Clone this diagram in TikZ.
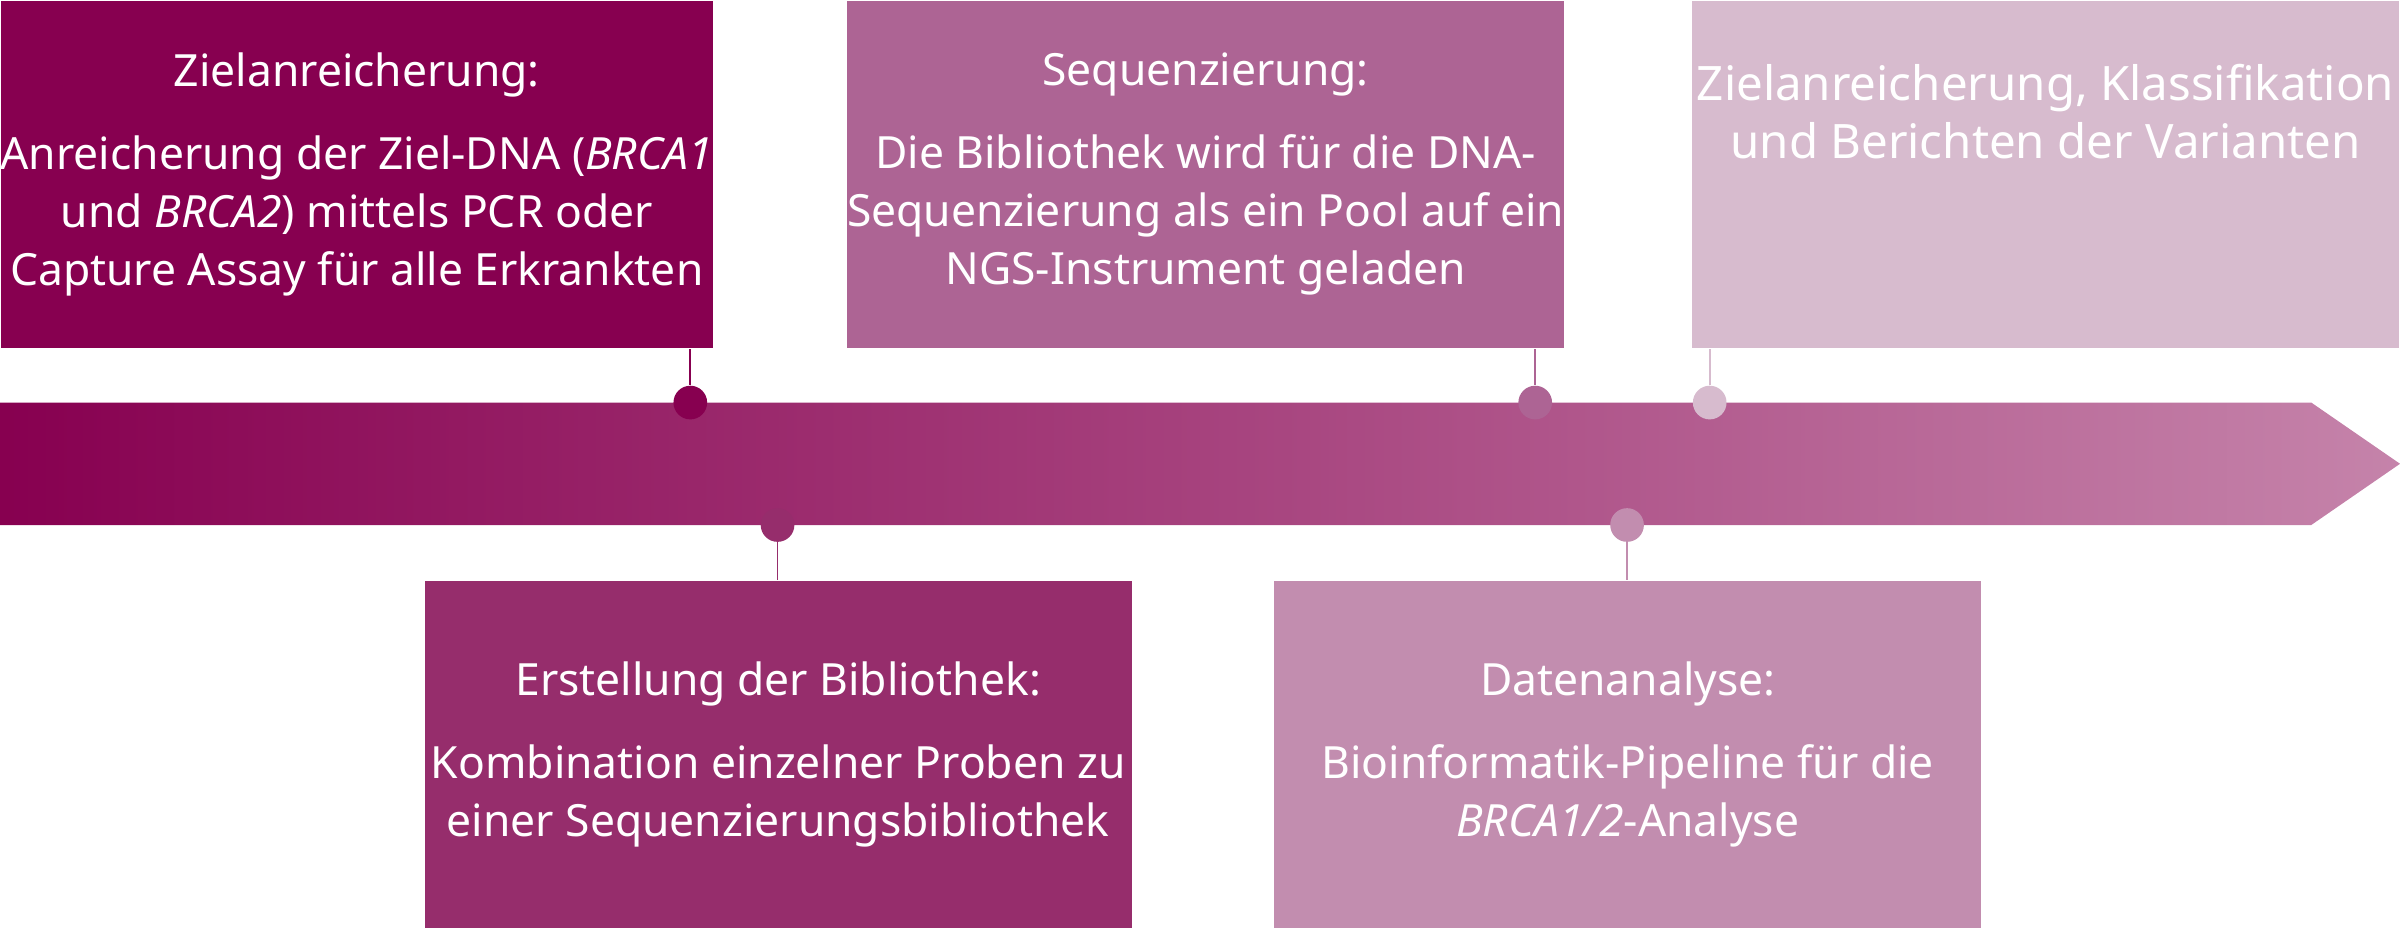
\documentclass[tikz,border=0pt]{standalone}
\usepackage{fontspec}
\setmainfont{Noto Sans}
\usetikzlibrary{shadings}
\definecolor{cA}{HTML}{870050}
\definecolor{cB}{HTML}{AD6494}
\definecolor{cC}{HTML}{D7BBCE}
\definecolor{cD}{HTML}{962D6C}
\definecolor{cE}{HTML}{C28DAF}
\definecolor{cArrL}{HTML}{870050}
\definecolor{cArrR}{HTML}{C583AA}
\tikzset{
 box/.style={minimum width=231pt,minimum height=113.5pt,inner sep=0pt,anchor=north west,text=white,align=center,font=\fontsize{14.5}{19}\selectfont},
 dot/.style={circle,minimum size=11pt,inner sep=0pt},
 stem/.style={line width=0.6pt}
}
\begin{document}
\begin{tikzpicture}[x=0.5pt,y=-0.5pt]
\useasboundingbox (0,0) rectangle (1568,606);
\shade[left color=cArrL,right color=cArrR] (0,263) -- (1510,263) -- (1568,303) -- (1510,343) -- (0,343) -- cycle;
\node[box,fill=cA] (b1) at (0,0) {\textbf{Zielanreicherung:}\\[8pt]Anreicherung der Ziel-DNA (\textit{BRCA1}\\und \textit{BRCA2}) mittels PCR oder\\Capture Assay für alle Erkrankten};
\node[box,fill=cB] (b2) at (553,0) {\textbf{Sequenzierung:}\\[8pt]Die Bibliothek wird für die DNA-\\Sequenzierung als ein Pool auf ein\\NGS-Instrument geladen};
\node[box,fill=cC] (b3) at (1105,0) {\textbf{\fontsize{15.5}{19}\selectfont Zielanreicherung, Klassifikation}\\\textbf{\fontsize{15.5}{19}\selectfont und Berichten der Varianten}\\[22pt]};
\node[box,fill=cD] (b4) at (277,379) {\textbf{Erstellung der Bibliothek:}\\[8pt]Kombination einzelner Proben zu\\einer Sequenzierungsbibliothek};
\node[box,fill=cE] (b5) at (832,379) {\textbf{Datenanalyse:}\\[8pt]Bioinformatik-Pipeline für die\\\textit{BRCA1/2}-Analyse};
\node[dot,fill=cA] (d1) at (451,263) {};
\node[dot,fill=cB] (d2) at (1003,263) {};
\node[dot,fill=cC] (d3) at (1117,263) {};
\node[dot,fill=cD] (d4) at (508,343) {};
\node[dot,fill=cE] (d5) at (1063,343) {};
\draw[stem,cA] (d1) -- (d1|-b1.south);
\draw[stem,cB] (d2) -- (d2|-b2.south);
\draw[stem,cC] (d3) -- (d3|-b3.south);
\draw[stem,cD] (d4) -- (d4|-b4.north);
\draw[stem,cE] (d5) -- (d5|-b5.north);
\end{tikzpicture}
\end{document}
